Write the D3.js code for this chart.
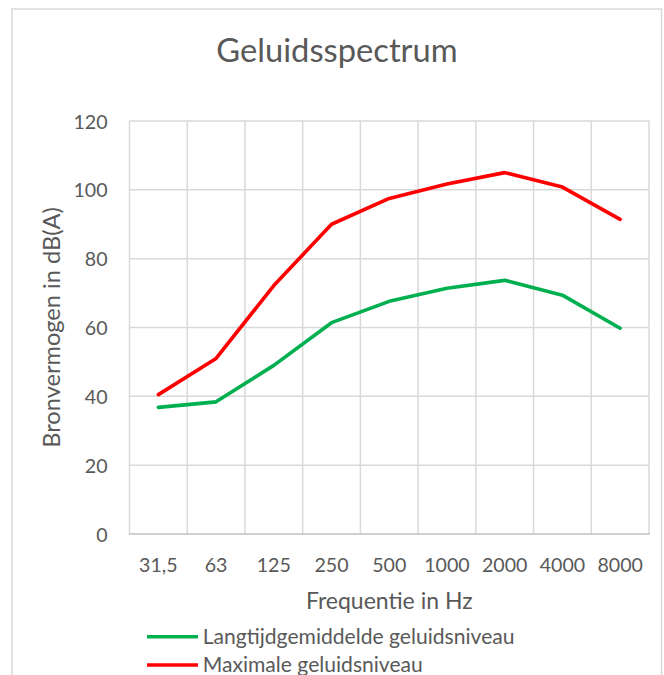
<!DOCTYPE html>
<html>
<head>
<meta charset="utf-8">
<script src="https://cdn.jsdelivr.net/npm/d3@7"></script>
<style>
  html, body { margin: 0; padding: 0; background: #fff; }
  svg { display: block; }
  text { font-family: Lato, "Open Sans", sans-serif; fill: #595959; }
</style>
</head>
<body>
<svg id="chart" width="664" height="675"></svg>
<script>
const title = "Geluidsspectrum";
const categories = ["31,5", "63", "125", "250", "500", "1000", "2000", "4000", "8000"];
const yTicks = [0, 20, 40, 60, 80, 100, 120];
const seriesNames = ["Langtijdgemiddelde geluidsniveau", "Maximale geluidsniveau"];
const seriesColors = ["#00b050", "#ff0000"];
const langtijd = [36.8, 38.4, 49.0, 61.4, 67.6, 71.4, 73.7, 69.4, 59.8];
const maximaal = [40.5, 51.0, 72.2, 90.0, 97.5, 101.7, 105.0, 100.8, 91.4];
const xTitle = "Frequentie in Hz";
const yTitle = "Bronvermogen in dB(A)";

const svg = d3.select("#chart");
const plot = { left: 129.5, right: 649, top: 121, bottom: 534 };

svg.append("rect").attr("width", 664).attr("height", 675).attr("fill", "#fff");
svg.append("rect")
  .attr("x", 12).attr("y", 9).attr("width", 649.5).attr("height", 720)
  .attr("fill", "none").attr("stroke", "#d9d9d9").attr("stroke-width", 1.5);

const x = d3.scaleBand().domain(categories).range([plot.left, plot.right]).padding(0);
const y = d3.scaleLinear().domain([0, 120]).range([plot.bottom, plot.top]);

// horizontal gridlines
svg.append("g").selectAll("line").data(yTicks.filter(d => d > 0)).join("line")
  .attr("x1", plot.left).attr("x2", plot.right)
  .attr("y1", d => y(d)).attr("y2", d => y(d))
  .attr("stroke", "#d9d9d9").attr("stroke-width", 1.5);

// vertical gridlines at category boundaries
const bounds = categories.map(c => x(c)).concat([plot.right]);
svg.append("g").selectAll("line").data(bounds).join("line")
  .attr("x1", d => d).attr("x2", d => d)
  .attr("y1", plot.top).attr("y2", plot.bottom)
  .attr("stroke", "#d9d9d9").attr("stroke-width", 1.5);

// bottom axis line
svg.append("line")
  .attr("x1", plot.left - 0.75).attr("x2", plot.right + 0.75)
  .attr("y1", plot.bottom).attr("y2", plot.bottom)
  .attr("stroke", "#bfbfbf").attr("stroke-width", 1.5);

// y axis via d3 axis
const yAxis = svg.append("g")
  .attr("transform", `translate(${plot.left},0)`)
  .call(d3.axisLeft(y).tickValues(yTicks).tickSize(0).tickPadding(22));
yAxis.select(".domain").remove();
yAxis.selectAll("text").style("font-size", "19.6px").attr("fill", "#595959")
  .style("font-family", "Lato, sans-serif").attr("dy", "0.36em");

// x axis via d3 axis
const xAxis = svg.append("g")
  .attr("transform", `translate(0,${plot.bottom})`)
  .call(d3.axisBottom(x).tickSize(0).tickPadding(24));
xAxis.select(".domain").remove();
xAxis.selectAll("text").style("font-size", "19.6px").attr("fill", "#595959")
  .style("font-family", "Lato, sans-serif").attr("dy", "0.71em");

// lines
const line = d3.line().x((d, i) => x(categories[i]) + x.bandwidth() / 2).y(d => y(d));
[langtijd, maximaal].forEach((s, k) => {
  svg.append("path").datum(s)
    .attr("d", line)
    .attr("fill", "none")
    .attr("stroke", seriesColors[k])
    .attr("stroke-width", 3.6)
    .attr("stroke-linejoin", "round")
    .attr("stroke-linecap", "round");
});

// title
svg.append("text").attr("x", 337).attr("y", 61.7)
  .attr("text-anchor", "middle").style("font-size", "32.7px").text(title);

// axis titles
svg.append("text").attr("x", (plot.left + plot.right) / 2).attr("y", 609.3)
  .attr("text-anchor", "middle").style("font-size", "23px").text(xTitle);
svg.append("text")
  .attr("transform", `translate(59.5,${(plot.top + plot.bottom) / 2}) rotate(-90)`)
  .attr("text-anchor", "middle").style("font-size", "23.6px").text(yTitle);

// legend
const legY = [636.7, 665];
seriesNames.forEach((name, k) => {
  svg.append("line")
    .attr("x1", 147).attr("x2", 198)
    .attr("y1", legY[k]).attr("y2", legY[k])
    .attr("stroke", seriesColors[k]).attr("stroke-width", 3.6);
  svg.append("text").attr("x", 202.7).attr("y", legY[k] + 7)
    .style("font-size", "21.1px").text(name);
});
</script>
</body>
</html>
